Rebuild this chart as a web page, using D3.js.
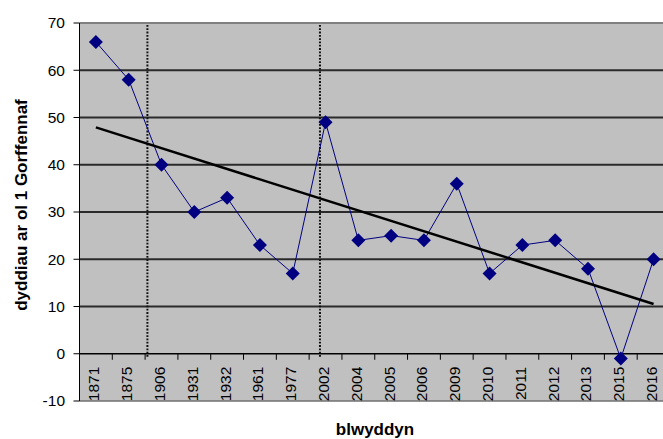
<!DOCTYPE html>
<html>
<head>
<meta charset="utf-8">
<script src="https://cdn.jsdelivr.net/npm/d3@7"></script>
<style>
  html, body { margin: 0; padding: 0; background: #fff; }
  svg { display: block; font-family: "Liberation Sans", Arial, sans-serif; }
</style>
</head>
<body>
<div id="chart"></div>
<script>
// Chart data
const years = ['1871', '1875', '1906', '1931', '1932', '1961', '1977', '2002', '2004',
  '2005', '2006', '2009', '2010', '2011', '2012', '2013', '2015', '2016'];
const days = [66, 58, 40, 30, 33, 23, 17, 49, 24, 25, 24, 36, 17, 23, 24, 18, -1, 20];
const yTicks = [-10, 0, 10, 20, 30, 40, 50, 60, 70];
const dividerYears = ['1906', '2002'];
const yTitle = 'dyddiau ar ol 1 Gorffennaf';
const xTitle = 'blwyddyn';

const width = 663;
const height = 439;
const plot = { left: 79.5, top: 23, right: 670, bottom: 401 };

const svg = d3.select('#chart').append('svg')
  .attr('width', width)
  .attr('height', height);

const x = d3.scaleBand()
  .domain(years)
  .range([plot.left, plot.right])
  .padding(0);
const bw = x.bandwidth();
const cx = d => x(d) + bw / 2;

const y = d3.scaleLinear()
  .domain([-10, 70])
  .range([plot.bottom, plot.top]);

svg.append('defs').append('clipPath')
  .attr('id', 'plot-clip')
  .append('rect')
  .attr('x', plot.left)
  .attr('y', plot.top)
  .attr('width', plot.right - plot.left)
  .attr('height', plot.bottom - plot.top);

// Plot area background
svg.append('rect')
  .attr('x', plot.left)
  .attr('y', plot.top)
  .attr('width', plot.right - plot.left)
  .attr('height', plot.bottom - plot.top)
  .attr('fill', '#c0c0c0');

// Horizontal gridlines
svg.append('g')
  .selectAll('line')
  .data(yTicks.filter(d => d > -10 && d < 70 && d !== 0))
  .enter().append('line')
  .attr('x1', plot.left)
  .attr('x2', plot.right)
  .attr('y1', d => y(d))
  .attr('y2', d => y(d))
  .attr('stroke', '#2a2a2a')
  .attr('stroke-width', 1.8);

// Frame top / bottom
svg.append('line')
  .attr('x1', plot.left).attr('x2', plot.right)
  .attr('y1', y(70)).attr('y2', y(70))
  .attr('stroke', '#808080').attr('stroke-width', 2);
svg.append('line')
  .attr('x1', plot.left).attr('x2', plot.right)
  .attr('y1', y(-10)).attr('y2', y(-10))
  .attr('stroke', '#707070').attr('stroke-width', 1.5);

// Dotted divider lines
const dividerOffset = [0.07, 0.33];
svg.append('g')
  .selectAll('line')
  .data(dividerYears)
  .enter().append('line')
  .attr('x1', (d, i) => x(d) + bw * dividerOffset[i])
  .attr('x2', (d, i) => x(d) + bw * dividerOffset[i])
  .attr('y1', y(70) + 2)
  .attr('y2', y(0) + 3)
  .attr('stroke', '#111')
  .attr('stroke-width', 2)
  .attr('stroke-dasharray', '1.8,1.5');

// Y axis
const yAxis = svg.append('g');
yAxis.append('line')
  .attr('x1', plot.left).attr('x2', plot.left)
  .attr('y1', plot.top).attr('y2', plot.bottom)
  .attr('stroke', '#000');
yAxis.selectAll('line.tick')
  .data(yTicks)
  .enter().append('line')
  .attr('class', 'tick')
  .attr('x1', plot.left - 6)
  .attr('x2', plot.left)
  .attr('y1', d => y(d))
  .attr('y2', d => y(d))
  .attr('stroke', '#000');
yAxis.selectAll('text')
  .data(yTicks)
  .enter().append('text')
  .attr('x', 65)
  .attr('y', d => y(d))
  .attr('dy', '0.35em')
  .attr('text-anchor', 'end')
  .attr('font-size', 15.5)
  .attr('fill', '#000')
  .text(d => d);

// Category axis at zero
const xAxis = svg.append('g');
xAxis.append('line')
  .attr('x1', plot.left).attr('x2', plot.right)
  .attr('y1', y(0)).attr('y2', y(0))
  .attr('stroke', '#000')
  .attr('stroke-width', 1.5);
xAxis.selectAll('line.tick')
  .data(years.slice(1))
  .enter().append('line')
  .attr('class', 'tick')
  .attr('x1', d => x(d))
  .attr('x2', d => x(d))
  .attr('y1', y(0))
  .attr('y2', y(0) + 6)
  .attr('stroke', '#000');
xAxis.append('g')
  .attr('clip-path', 'url(#plot-clip)')
  .selectAll('text')
  .data(years)
  .enter().append('text')
  .attr('transform', d => `translate(${cx(d)},${y(0) + 13}) rotate(-90)`)
  .attr('dy', '0.22em')
  .attr('text-anchor', 'end')
  .attr('font-size', 15.5)
  .attr('fill', '#000')
  .text(d => d);

// Series line and markers
const line = d3.line()
  .x((d, i) => cx(years[i]))
  .y(d => y(d));

svg.append('path')
  .datum(days)
  .attr('d', line)
  .attr('fill', 'none')
  .attr('stroke', '#000080')
  .attr('stroke-width', 1);

svg.append('g')
  .selectAll('path')
  .data(days)
  .enter().append('path')
  .attr('transform', (d, i) => `translate(${cx(years[i])},${y(d)})`)
  .attr('d', 'M0,-7L7,0L0,7L-7,0Z')
  .attr('fill', '#000080');

// Linear trendline (least squares over category index)
const n = days.length;
const meanX = (n - 1) / 2;
const meanY = d3.mean(days);
const sxy = d3.sum(days, (d, i) => (i - meanX) * (d - meanY));
const sxx = d3.sum(days, (d, i) => (i - meanX) * (i - meanX));
const slope = sxy / sxx;
const icpt = meanY - slope * meanX;

svg.append('line')
  .attr('x1', cx(years[0]))
  .attr('y1', y(icpt))
  .attr('x2', cx(years[n - 1]))
  .attr('y2', y(icpt + slope * (n - 1)))
  .attr('stroke', '#000')
  .attr('stroke-width', 2.5);

// Axis titles
svg.append('text')
  .attr('transform', 'translate(27,205) rotate(-90)')
  .attr('text-anchor', 'middle')
  .attr('font-size', 17)
  .attr('font-weight', 'bold')
  .text(yTitle);

svg.append('text')
  .attr('x', 375)
  .attr('y', 434.5)
  .attr('text-anchor', 'middle')
  .attr('font-size', 17)
  .attr('font-weight', 'bold')
  .text(xTitle);
</script>
</body>
</html>
